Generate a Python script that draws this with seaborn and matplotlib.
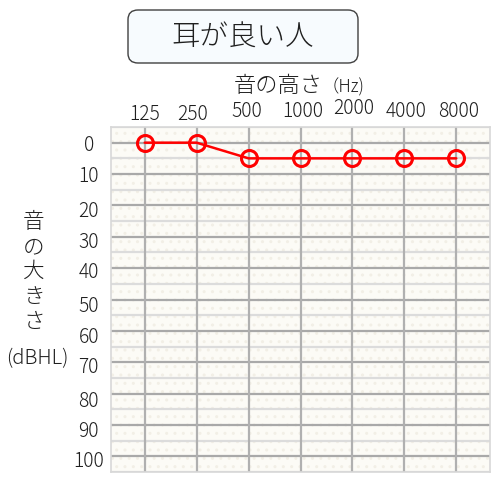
import matplotlib
matplotlib.use("Agg")
import matplotlib.pyplot as plt
import matplotlib.transforms as mtrans
from matplotlib.patches import FancyBboxPatch, Rectangle
import pandas as pd
import seaborn as sns

# audiogram data
freqs = ["125", "250", "500", "1000", "2000", "4000", "8000"]
levels = [0, 0, 5, 5, 5, 5, 5]
db_ticks = [0, 10, 20, 30, 40, 50, 60, 70, 80, 90, 100]

sns.set_style("white")
plt.rcParams["font.family"] = ["Noto Sans CJK JP", "DejaVu Sans"]
TXT = "#1f1f1f"

df = pd.DataFrame({"freq": freqs, "level": levels})

W, H = 501, 478
fig = plt.figure(figsize=(W / 100, H / 100), dpi=100)
ax = fig.add_axes([111 / W, 1 - 472 / H, (490 - 111) / W, (472 - 127) / H])
ax.set_facecolor("#fcfbf6")
ax.add_patch(Rectangle((0, 0), 1, 1, transform=ax.transAxes, facecolor="none",
                       edgecolor="#f2efe6", hatch="..", lw=0, zorder=0))

# grid lines
for v in range(-5, 106, 10):
    ax.axhline(v, color="#dcdcdc", lw=1.6, zorder=1)
for v in db_ticks:
    ax.axhline(v, color="#a9a9a9", lw=1.6, zorder=1)
for i in range(len(freqs)):
    ax.axvline(i, color="#b0b0b0", lw=1.6, zorder=1)

sns.lineplot(data=df, x="freq", y="level", ax=ax, color="#ff0000", lw=1.8,
             marker="o", markersize=11.5, markerfacecolor="none",
             markeredgecolor="#ff0000", markeredgewidth=2.2, sort=False,
             zorder=3)

ax.set_xlim(-0.65, 6.65)
ax.set_ylim(105, -5)
ax.set_yticks(db_ticks)
ax.xaxis.tick_top()
ax.set_xticks(range(len(freqs)))
ax.set_xticklabels(freqs)
ax.tick_params(axis="both", length=0, labelsize=13.8, colors=TXT)
ax.tick_params(axis="y", pad=16)
ax.tick_params(axis="x", pad=1.5)
ax.set_xlabel("")
ax.set_ylabel("")
for s in ax.spines.values():
    s.set_color("#d8d8d8")
    s.set_linewidth(1.2)

# small hand-placed shifts of the tick labels (pixels)
x_shift = [0, -4, -2, 2, 1, 2, 2]
y_shift = [0, 0, 3, 3, 6, 3, 3]
for lab, dx, dy in zip(ax.get_xticklabels(), x_shift, y_shift):
    lab.set_transform(lab.get_transform() +
                      mtrans.ScaledTranslation(dx / 100, dy / 100, fig.dpi_scale_trans))
    lab.set_fontweight("light")
ydrop = [0, 0, 4, 3, 2, 4, 4, 3, 5, 4, 3]
for lab, dy in zip(ax.get_yticklabels(), ydrop):
    lab.set_horizontalalignment("center")
    lab.set_fontweight("light")
    lab.set_transform(lab.get_transform() +
                      mtrans.ScaledTranslation(0, -dy / 100, fig.dpi_scale_trans))

# title box
box = FancyBboxPatch((128 / W, 1 - 63 / H), (358 - 128) / W, (63 - 10) / H,
                     boxstyle="round,pad=0,rounding_size=0.02",
                     transform=fig.transFigure, facecolor="#f7fbfe",
                     edgecolor="#404040", lw=1.0)
fig.patches.append(box)
fig.text(243 / W, 1 - 37 / H, "耳が良い人", ha="center", va="center",
         fontsize=20.5, color=TXT, fontweight="light")

# x axis label
fig.text(323 / W, 1 - 86 / H, "音の高さ", ha="right", va="center",
         fontsize=16, color=TXT, fontweight="light")
fig.text(322 / W, 1 - 87 / H, "（Hz)", ha="left", va="center",
         fontsize=12.5, color=TXT, fontweight="light")

# y axis label, stacked characters
for ch, yy in zip("音の大きさ", [222, 247, 272, 297, 322]):
    fig.text(34 / W, 1 - yy / H, ch, ha="center", va="center",
             fontsize=15.5, color=TXT, fontweight="light")
fig.text(37 / W, 1 - 359 / H, "(dBHL)", ha="center", va="center",
         fontsize=14.5, color=TXT, fontweight="light")

fig.savefig("out.png", dpi=100)
